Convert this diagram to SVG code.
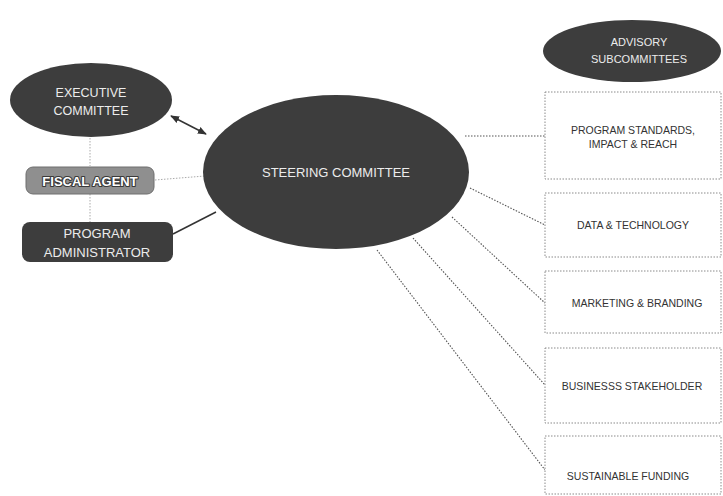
<svg xmlns="http://www.w3.org/2000/svg" width="723" height="496" viewBox="0 0 723 496">
<defs>
<style>
.dark{fill:#3d3d3d;}
.wt{fill:#ececec;font-family:"Liberation Sans",Arial,sans-serif;text-anchor:middle;}
.bx{fill:#ffffff;stroke:#8a8a8a;stroke-width:1;stroke-dasharray:1.5 1.5;}
.bt{fill:#333333;font-family:"Liberation Sans",Arial,sans-serif;font-size:10.5px;text-anchor:middle;}
.dot{stroke:#555;stroke-width:1.1;stroke-dasharray:1.5 1.5;fill:none;}
.ldot{stroke:#aaa;stroke-width:1;stroke-dasharray:1.5 1.5;fill:none;}
.sol{stroke:#333;stroke-width:1.5;fill:none;}
</style>
<marker id="ah" viewBox="0 0 10 10" refX="9" refY="5" markerWidth="6" markerHeight="6" orient="auto-start-reverse">
<path d="M0,1 L10,5 L0,9 z" fill="#333"/>
</marker>
</defs>
<rect width="723" height="496" fill="#ffffff"/>
<g id="connectors">
<line class="sol" x1="171" y1="116" x2="206" y2="134" marker-start="url(#ah)" marker-end="url(#ah)"/>
<line class="sol" x1="173" y1="234" x2="216" y2="212"/>
<line class="ldot" x1="155" y1="180" x2="205" y2="176"/>
<line class="ldot" x1="90" y1="138" x2="90" y2="166"/>
<line class="ldot" x1="90" y1="194" x2="90" y2="222"/>
<line class="dot" x1="465" y1="136" x2="545" y2="136"/>
<line class="dot" x1="470" y1="188" x2="545" y2="225"/>
<line class="dot" x1="452" y1="217" x2="545" y2="303"/>
<line class="dot" x1="413" y1="238" x2="545" y2="385"/>
<line class="dot" x1="377" y1="250" x2="545" y2="470"/>
</g>
<g id="executive">
<ellipse class="dark" cx="91" cy="100" rx="81" ry="37"/>
<text class="wt" x="91" y="97" font-size="12.5">EXECUTIVE</text>
<text class="wt" x="91" y="115" font-size="12.5">COMMITTEE</text>
</g>
<g id="fiscal">
<rect x="26" y="167" width="128" height="27" rx="7" fill="#8f8f8f" stroke="#6e6e6e"/>
<text x="90" y="185.5" font-size="13" font-weight="bold" fill="#ffffff" stroke="#3a3a3a" stroke-width="2.2" paint-order="stroke" stroke-linejoin="round" font-family="Liberation Sans,Arial,sans-serif" text-anchor="middle">FISCAL AGENT</text>
</g>
<g id="administrator">
<rect class="dark" x="22" y="222" width="151" height="40" rx="8"/>
<text class="wt" x="97" y="238" font-size="13">PROGRAM</text>
<text class="wt" x="97" y="257" font-size="13">ADMINISTRATOR</text>
</g>
<g id="steering">
<ellipse class="dark" cx="336" cy="172" rx="133" ry="77"/>
<text class="wt" x="336" y="177" font-size="13">STEERING COMMITTEE</text>
</g>
<g id="advisory">
<ellipse class="dark" cx="632" cy="51" rx="89" ry="31"/>
<text class="wt" x="639" y="46" font-size="11">ADVISORY</text>
<text class="wt" x="639" y="63" font-size="11">SUBCOMMITTEES</text>
</g>
<g id="standards">
<rect class="bx" x="545" y="92" width="176" height="87"/>
<text class="bt" x="633" y="134">PROGRAM STANDARDS,</text>
<text class="bt" x="633" y="148">IMPACT &amp; REACH</text>
</g>
<g id="data">
<rect class="bx" x="545" y="193" width="176" height="64"/>
<text class="bt" x="633" y="229" font-size="11">DATA &amp; TECHNOLOGY</text>
</g>
<g id="marketing">
<rect class="bx" x="545" y="271" width="176" height="62"/>
<text class="bt" x="637" y="307">MARKETING &amp; BRANDING</text>
</g>
<g id="business">
<rect class="bx" x="545" y="348" width="176" height="75"/>
<text class="bt" x="632" y="390">BUSINESSS STAKEHOLDER</text>
</g>
<g id="funding">
<rect class="bx" x="545" y="436" width="176" height="58"/>
<text class="bt" x="628" y="480">SUSTAINABLE FUNDING</text>
</g>
</svg>
